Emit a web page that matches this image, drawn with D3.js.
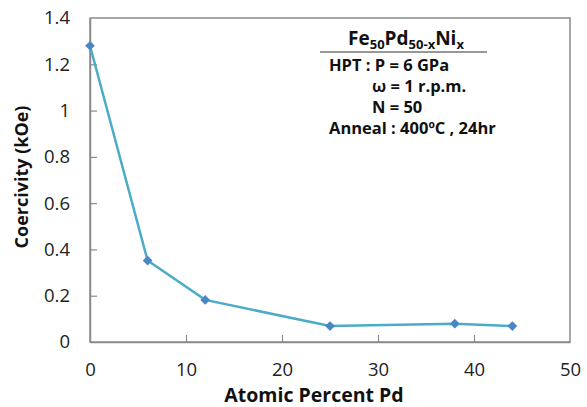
<!DOCTYPE html>
<html>
<head>
<meta charset="utf-8">
<script src="https://cdn.jsdelivr.net/npm/d3@7"></script>
<style>
  body { margin: 0; background: #fff; }
  svg { display: block; font-family: "Open Sans", "DejaVu Sans", sans-serif; }
</style>
</head>
<body>
<div id="chart"></div>
<script>
// atomic percent Pd vs coercivity (kOe)
const pdPercent = [0, 6, 12, 25, 38, 44];
const coercivity = [1.28, 0.352, 0.182, 0.069, 0.079, 0.069];
const xTicks = [0, 10, 20, 30, 40, 50];
const yTicks = [0, 0.2, 0.4, 0.6, 0.8, 1, 1.2, 1.4];
const noteLines = ["HPT : P = 6 GPa", "ω = 1 r.p.m.", "N = 50", "Anneal : 400ºC , 24hr"];

const width = 587, height = 407;
const margin = { left: 90, top: 18, right: 17, bottom: 65 };

const svg = d3.select("#chart").append("svg")
    .attr("width", width)
    .attr("height", height);

const x = d3.scaleLinear().domain([0, 50]).range([margin.left, width - margin.right]);
const y = d3.scaleLinear().domain([0, 1.4]).range([height - margin.bottom, margin.top]);

// plot frame
svg.append("rect")
    .attr("x", x(0)).attr("y", y(1.4))
    .attr("width", x(50) - x(0)).attr("height", y(0) - y(1.4))
    .attr("fill", "none")
    .attr("stroke", "#8a8a8a")
    .attr("stroke-width", 1.5);

const xAxis = svg.append("g")
    .attr("transform", `translate(0,${y(0)})`)
    .call(d3.axisBottom(x).tickValues(xTicks).tickSizeInner(-7).tickSizeOuter(0).tickPadding(21));
const yAxis = svg.append("g")
    .attr("transform", `translate(${x(0)},0)`)
    .call(d3.axisLeft(y).tickValues(yTicks).tickSizeInner(-7).tickSizeOuter(0).tickPadding(20)
        .tickFormat(d => d3.format("")(+d.toFixed(1))));

[xAxis, yAxis].forEach(g => {
    g.select(".domain").attr("stroke", "#8a8a8a").attr("stroke-width", 1.5);
    g.selectAll(".tick line").attr("stroke", "#8a8a8a").attr("stroke-width", 1.2);
    g.selectAll(".tick text")
        .attr("fill", "#222")
        .style("font-size", "18.5px")
        .style("font-family", "\"Open Sans\", sans-serif");
});
xAxis.selectAll(".tick line").filter(d => d === 0 || d === 50).remove();
yAxis.selectAll(".tick line").filter(d => d === 0 || d === 1.4).remove();

// axis titles
svg.append("text")
    .attr("x", 314)
    .attr("y", 402)
    .attr("text-anchor", "middle")
    .style("font-size", "19.5px")
    .style("font-weight", "bold")
    .attr("fill", "#111")
    .text("Atomic Percent Pd");

svg.append("text")
    .attr("transform", `translate(28,${(y(0) + y(1.4)) / 2 - 3}) rotate(-90)`)
    .attr("text-anchor", "middle")
    .style("font-size", "18px")
    .style("font-weight", "bold")
    .attr("fill", "#111")
    .text("Coercivity (kOe)");

// series
const pts = pdPercent.map((d, i) => [d, coercivity[i]]);
svg.append("path")
    .datum(pts)
    .attr("fill", "none")
    .attr("stroke", "#4bacc6")
    .attr("stroke-width", 2.5)
    .attr("d", d3.line().x(d => x(d[0])).y(d => y(d[1])));

svg.selectAll(".marker")
    .data(pts)
    .enter().append("path")
    .attr("class", "marker")
    .attr("transform", d => `translate(${x(d[0])},${y(d[1])})`)
    .attr("d", d3.symbol().type(d3.symbolDiamond2).size(60))
    .attr("fill", "#4a85c5");

// annotation
const note = svg.append("g").attr("fill", "#111").style("font-weight", "bold");
const title = note.append("text")
    .attr("x", 406).attr("y", 45)
    .attr("text-anchor", "middle")
    .style("font-size", "19px");
title.append("tspan").text("Fe");
title.append("tspan").attr("dy", 4).style("font-size", "13px").text("50");
title.append("tspan").attr("dy", -4).text("Pd");
title.append("tspan").attr("dy", 4).style("font-size", "13px").text("50-x");
title.append("tspan").attr("dy", -4).text("Ni");
title.append("tspan").attr("dy", 4).style("font-size", "13px").text("x");

note.append("line")
    .attr("x1", 320).attr("x2", 487)
    .attr("y1", 52).attr("y2", 52)
    .attr("stroke", "#333").attr("stroke-width", 1.2);

const noteX = [329, 372, 372, 329];
const noteY = [71, 92, 113, 134];
noteLines.forEach((t, i) => {
    note.append("text")
        .attr("x", noteX[i]).attr("y", noteY[i])
        .style("font-size", "16.5px")
        .text(t);
});
</script>
</body>
</html>
